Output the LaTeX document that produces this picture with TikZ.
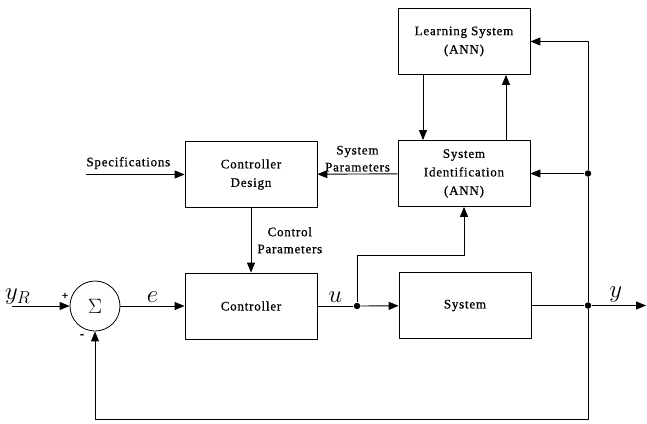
\documentclass[tikz,border=0pt]{standalone}
\usepackage{fontspec}
\setmainfont[LetterSpace=6, FakeBold=0.8]{Liberation Serif}
\usetikzlibrary{arrows.meta}
\tikzset{
	blk/.style={draw, line width=0.8pt, minimum width=132pt, minimum height=66pt, align=center, font=\fontsize{13}{18.5}\selectfont},
	lbl/.style={align=center, font=\fontsize{13}{17}\selectfont, inner sep=2pt},
	sig/.style={font=\fontsize{24}{24}\selectfont, inner sep=3pt},
	dot/.style={circle, fill, inner sep=0pt, minimum size=6.5pt}
}
\begin{document}
\begin{tikzpicture}[x=1pt, y=-1pt, line width=0.9pt, line join=round, >={Triangle[length=10pt,width=8pt]}]
			\useasboundingbox (0,0) rectangle (647,423);
			% blocks
			\node[blk] (learn) at (464,41.5) {Learning System\\(ANN)};
			\node[blk] (ident) at (464,173.5) {System\\Identification\\(ANN)};
			\node[blk] (design) at (251,174.5) {Controller\\Design};
			\node[blk] (ctrl) at (251,306) {Controller};
			\node[blk] (sys) at (465,305.5) {System};
			\node[draw, circle, line width=0.8pt, minimum size=50pt, inner sep=0pt, font=\fontsize{22}{22}\selectfont] (sum) at (95,306) {$\Sigma$};
			% branch points and free ends
			\coordinate (yin) at (12,306);
			\coordinate (spec) at (86,174.5);
			\node[dot] (du) at (357,306) {};
			\node[dot] (dy) at (588,305.5) {};
			\node[dot] (dy2) at (588,173.5) {};
			\coordinate (yout) at (646,305.5);
			\coordinate (fb) at (95,419);
			\coordinate (bend) at (357,255);
			% signals
			\draw[->] (yin) -- node[sig, pos=0.1, above, yshift=-2pt]{$y_R$} (sum);
			\node[font=\fontsize{11}{11}\selectfont] (plus) at (65,296) {+};
			\node[font=\fontsize{13}{13}\selectfont] (minus) at (82,336) {-};
			\draw[->] (sum) -- node[sig, above]{$e$} (ctrl);
			\draw (ctrl) -- node[sig, above]{$u$} (du);
			\draw[->] (du) -- (sys);
			\draw (sys) -- (dy);
			\draw[->] (dy) -- node[sig, above, xshift=-3pt]{$y$} (yout);
			\draw[->] (dy) |- (fb) -- (sum);
			\draw (dy) -- (dy2);
			\draw[->] (dy2) -- (ident);
			\draw[->] (dy2) |- (learn);
			\draw[->] (du) -- (bend) -| (ident);
			\draw[->] ([xshift=-41pt]learn.south) -- ([xshift=-41pt]ident.north);
			\draw[->] ([xshift=42pt]ident.north) -- ([xshift=42pt]learn.south);
			\draw[->] (ident) -- node[lbl, above]{System\\Parameters} (design);
			\draw[->] (spec) -- node[lbl, pos=0, above right, inner xsep=0pt, yshift=3pt]{Specifications} (design);
			\draw[->] (design) -- node[lbl, right, xshift=4pt]{Control\\Parameters} (ctrl);
		\end{tikzpicture}
\end{document}
